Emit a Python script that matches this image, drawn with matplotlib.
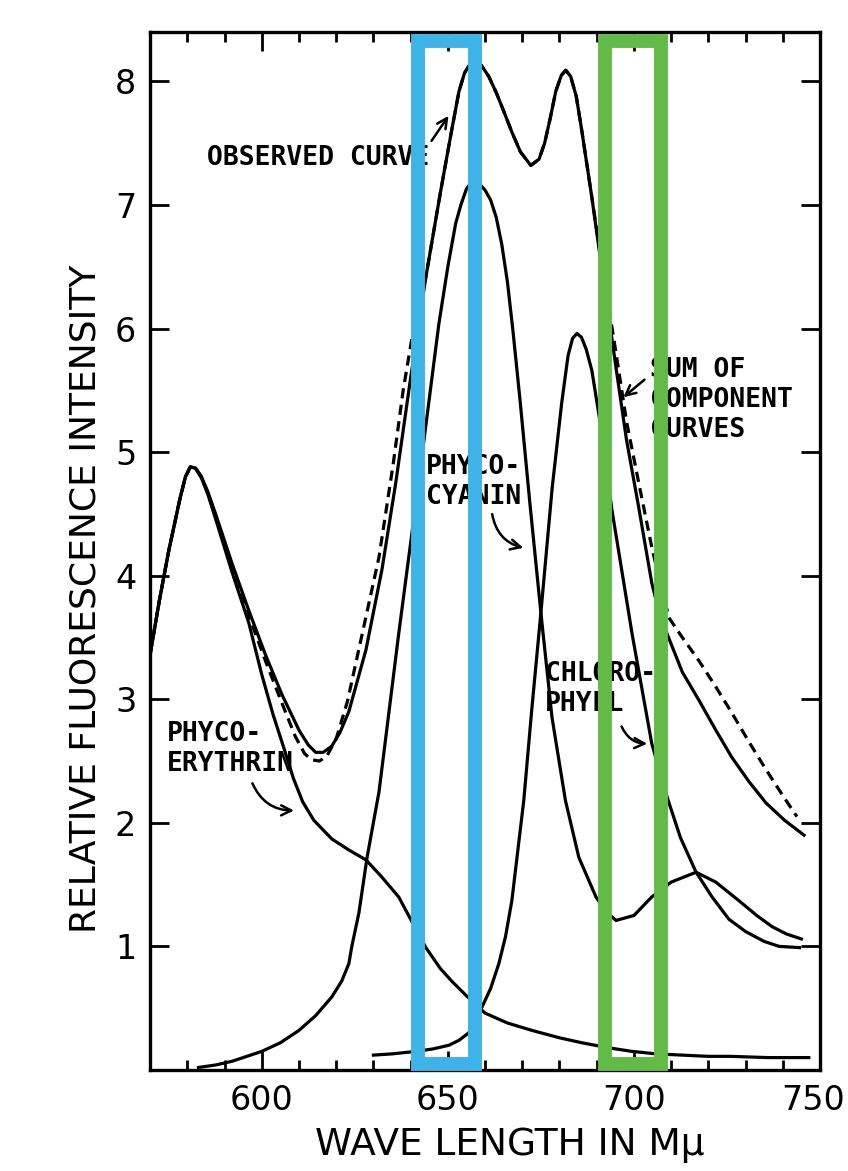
import matplotlib.pyplot as plt
import matplotlib.transforms as mtransforms
from matplotlib.patches import Rectangle
from matplotlib.ticker import MultipleLocator

# observed fluorescence curve
obs_x = [570, 572.5, 575, 578, 579.5, 580.8, 582.2, 583.8, 585.5, 587.6, 592, 596.5, 601,
         605.4, 610, 612.5, 614.5, 616.5, 618.8, 621, 623.4, 628, 632.3, 636, 640, 644, 648,
         651, 653, 654.5, 656, 657.5, 659, 661, 663, 665, 667.2, 669.5, 672.3, 674.5, 676,
         677.5, 679, 680.5, 681.7, 683, 684.5, 686, 688.7, 690.6, 693, 695.2, 698, 701.3,
         704.8, 706.8, 708.9, 713, 717.5, 722, 726.3, 731, 735.5, 740.5, 745.7]
obs_y = [3.36, 3.8, 4.2, 4.62, 4.8, 4.88, 4.87, 4.8, 4.68, 4.5, 4.1, 3.72, 3.36,
         3.04, 2.75, 2.63, 2.57, 2.57, 2.62, 2.73, 2.9, 3.4, 4.05, 4.75, 5.6, 6.4, 7.1,
         7.6, 7.92, 8.07, 8.14, 8.16, 8.13, 8.04, 7.91, 7.76, 7.59, 7.43, 7.32, 7.37, 7.5,
         7.7, 7.92, 8.05, 8.09, 8.04, 7.88, 7.6, 7.06, 6.65, 6.15, 5.68, 5.1, 4.55,
         3.94, 3.7, 3.53, 3.22, 2.99, 2.75, 2.53, 2.33, 2.16, 2.02, 1.9]

# sum of component curves (dashed)
sum_x = [570, 572.5, 575, 578, 579.5, 580.8, 582.2, 583.8, 585.5, 587.6, 592, 596.5, 601,
         605.4, 609, 611.5, 613.4, 615.5, 617.5, 620, 623, 627, 631.5, 635.3, 638, 640.5,
         644, 648, 651, 653, 654.5, 656, 657.5, 659, 661, 663, 665, 667.2, 669.5, 672.3,
         674.5, 676, 677.5, 679, 680.5, 681.7, 683, 684.5, 686, 688.7, 690.6, 693, 695.2,
         698, 701.3, 705, 709.4, 713, 717.5, 722, 726.3, 731, 735.5, 740, 743.8]
sum_y = [3.36, 3.8, 4.2, 4.62, 4.8, 4.88, 4.87, 4.8, 4.67, 4.48, 4.07, 3.68, 3.31,
         2.97, 2.7, 2.56, 2.51, 2.5, 2.54, 2.68, 2.98, 3.53, 4.15, 4.9, 5.5, 5.95,
         6.4, 7.1, 7.6, 7.92, 8.07, 8.14, 8.16, 8.13, 8.04, 7.91, 7.76, 7.59, 7.43, 7.32,
         7.37, 7.5, 7.7, 7.92, 8.05, 8.09, 8.04, 7.88, 7.6, 7.06, 6.68, 6.22, 5.8,
         5.25, 4.75, 4.2, 3.66, 3.5, 3.31, 3.1, 2.89, 2.65, 2.43, 2.22, 2.05]

# phycoerythrin
pe_x = [570, 572.5, 575, 578, 579.5, 580.8, 582.2, 583.8, 585.5, 587.6, 592, 596.5, 600,
        603, 606, 608.5, 611, 614, 618.8, 623.4, 628, 632, 636.8, 640, 644.1, 648, 651,
        655, 660, 666, 672.6, 680, 686, 693, 699.5, 706, 713, 720, 726, 736, 747]
pe_y = [3.36, 3.8, 4.2, 4.62, 4.8, 4.88, 4.87, 4.79, 4.66, 4.46, 4.03, 3.62, 3.2,
        2.88, 2.6, 2.36, 2.17, 2.02, 1.87, 1.78, 1.7, 1.57, 1.4, 1.22, 0.99, 0.82, 0.72,
        0.6, 0.46, 0.38, 0.32, 0.26, 0.22, 0.18, 0.15, 0.13, 0.12, 0.11, 0.11, 0.1, 0.1]

# phycocyanin
pc_x = [583, 587.6, 592, 600, 605, 610, 614.5, 618.8, 621.5, 623.4, 624.2, 626.1, 628.3,
        631.5, 636.8, 642.2, 647.6, 650, 652.1, 653.5, 655, 656.5, 658.5, 660, 661.5, 663,
        664.5, 666, 667.5, 669.4, 672, 675, 678, 681.6, 685.2, 689.8, 692.5, 695.2, 700,
        704.8, 710, 716.7, 722, 728.2, 733, 737.1, 741, 745]
pc_y = [0.02, 0.04, 0.07, 0.15, 0.22, 0.32, 0.44, 0.59, 0.72, 0.86, 1.0, 1.27, 1.72,
        2.25, 3.53, 4.77, 6.04, 6.5, 6.85, 7.0, 7.13, 7.19, 7.17, 7.12, 7.04, 6.9,
        6.68, 6.38, 5.98, 5.42, 4.6, 3.7, 2.85, 2.18, 1.72, 1.4, 1.28, 1.21, 1.25,
        1.4, 1.52, 1.6, 1.52, 1.37, 1.25, 1.16, 1.1, 1.06]

# chlorophyll
chl_x = [630, 635, 641.4, 646, 650.3, 653, 655.6, 657.5, 659.2, 661.5, 663.7, 665.5, 667.2,
         670.4, 672.5, 675, 678, 680.6, 682.3, 683.5, 684.7, 685.9, 687.2, 688.7, 691.4,
         694.1, 699.5, 704.8, 709, 712.5, 716.7, 721, 725.5, 730, 735, 739, 744.5]
chl_y = [0.12, 0.13, 0.15, 0.17, 0.2, 0.24, 0.3, 0.4, 0.51, 0.66, 0.86, 1.08, 1.37,
         2.18, 2.9, 3.7, 4.7, 5.4, 5.78, 5.92, 5.96, 5.93, 5.83, 5.66, 5.15,
         4.53, 3.53, 2.64, 2.2, 1.88, 1.6, 1.4, 1.22, 1.12, 1.04, 1.0, 0.99]

xticks = [600, 650, 700, 750]
yticks = [1, 2, 3, 4, 5, 6, 7, 8]

# highlighted wavelength windows (start, end) and their colours
bands = [(642.1, 657.4), (692.2, 707.3)]
band_colors = ['#3db3e8', '#63bb47']

fig = plt.figure(figsize=(8.48, 11.71), dpi=100)
ax = fig.add_axes([0.177, 0.0863, 0.790, 0.8864])

lw = 2.3
ax.plot(obs_x, obs_y, color='black', lw=lw)
ax.plot(sum_x, sum_y, color='black', lw=lw, ls=(0, (3.2, 2)))
ax.plot(pe_x, pe_y, color='black', lw=lw)
ax.plot(pc_x, pc_y, color='black', lw=lw)
ax.plot(chl_x, chl_y, color='black', lw=lw)

ax.set_xlim(570, 750)
ax.set_ylim(0, 8.4)
ax.set_xticks(xticks)
ax.set_yticks(yticks)
ax.xaxis.set_minor_locator(MultipleLocator(10))
ax.tick_params(which='both', direction='in', top=True, right=True, width=2,
               labelsize=24, pad=10)
ax.tick_params(which='major', length=14)
ax.tick_params(which='minor', length=7)
for s in ax.spines.values():
    s.set_linewidth(2.4)

# keep the last x label inside the figure
fig.canvas.draw()
ax.get_xticklabels()[-1].set_transform(
    ax.get_xaxis_text1_transform(10)[0]
    + mtransforms.ScaledTranslation(-7 / 100, 0, fig.dpi_scale_trans))

ax.set_xlabel('WAVE LENGTH IN Mμ', fontsize=27, va='center')
ax.set_ylabel('RELATIVE FLUORESCENCE INTENSITY', fontsize=26, va='center')
ax.xaxis.set_label_coords(0.537, -0.072)
ax.yaxis.set_label_coords(-0.097, 0.454)

tfont = dict(family='DejaVu Sans Mono', fontsize=19, fontweight='bold', linespacing=1.2)
ax.text(585.2, 7.38, 'OBSERVED CURVE', ha='left', va='center', **tfont)
ax.text(704.2, 5.42, 'SUM OF\nCOMPONENT\nCURVES', ha='left', va='center', **tfont)
ax.text(644.2, 4.76, 'PHYCO-\nCYANIN', ha='left', va='center', **tfont)
ax.text(676.2, 3.08, 'CHLORO-\nPHYLL', ha='left', va='center', **tfont)
ax.text(574.4, 2.6, 'PHYCO-\nERYTHRIN', ha='left', va='center', **tfont)

arr = dict(arrowstyle='->', color='black', lw=1.8, mutation_scale=18)
ax.annotate('', xy=(650.6, 7.74), xytext=(645.2, 7.5),
            arrowprops=dict(arr, connectionstyle='arc3,rad=0'))
ax.annotate('', xy=(696.6, 5.43), xytext=(703.4, 5.6),
            arrowprops=dict(arr, connectionstyle='arc3,rad=0'))
ax.annotate('', xy=(671.0, 4.22), xytext=(661.8, 4.52),
            arrowprops=dict(arr, connectionstyle='arc3,rad=0.35'))
ax.annotate('', xy=(704.3, 2.64), xytext=(696.4, 2.8),
            arrowprops=dict(arr, connectionstyle='arc3,rad=0.35'))
ax.annotate('', xy=(609.4, 2.1), xytext=(597.2, 2.34),
            arrowprops=dict(arr, connectionstyle='arc3,rad=0.35'))

for (x0, x1), c in zip(bands, band_colors):
    ax.add_patch(Rectangle((x0, 0.05), x1 - x0, 8.28, fill=False, edgecolor=c,
                           lw=10, clip_on=False, zorder=10, joinstyle='miter'))

fig.savefig('out.png', dpi=100)
